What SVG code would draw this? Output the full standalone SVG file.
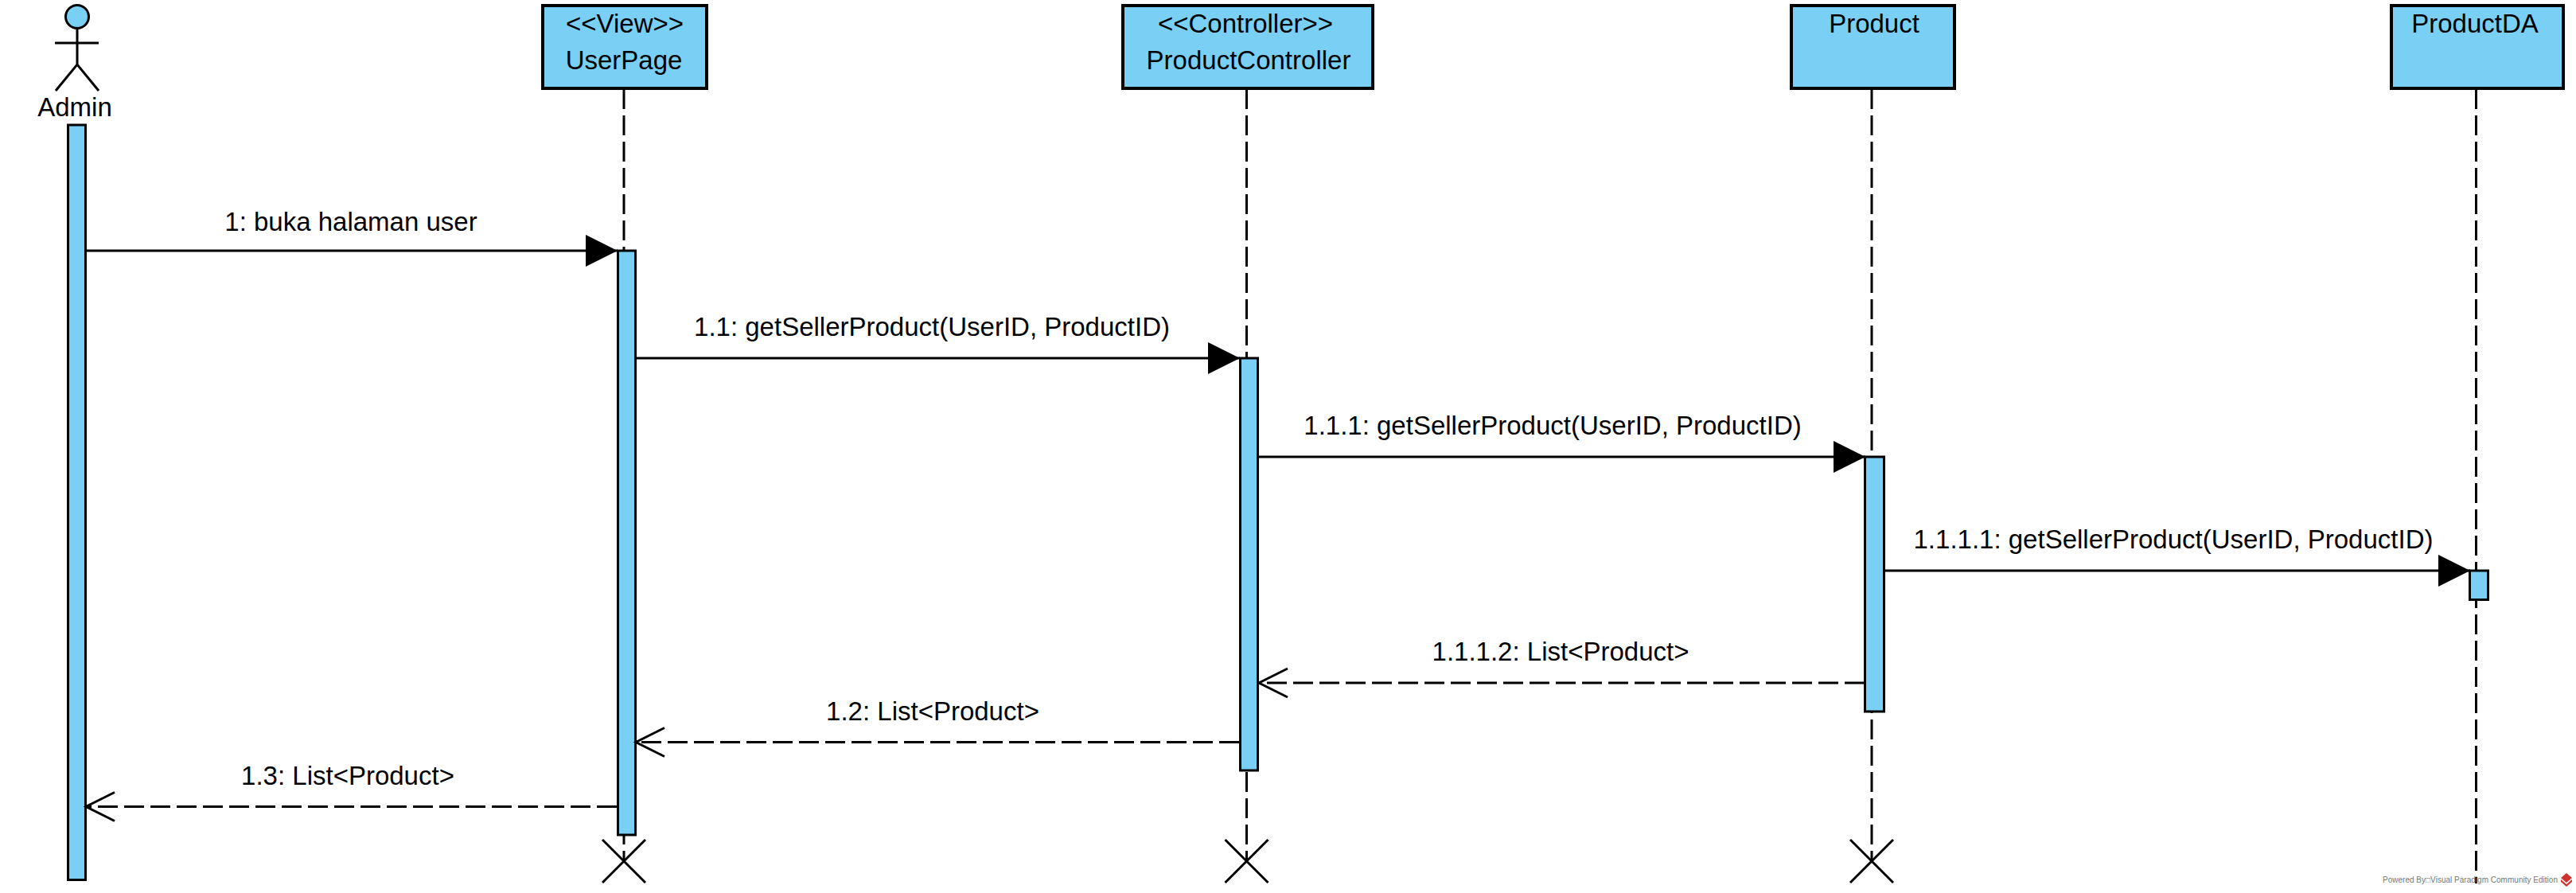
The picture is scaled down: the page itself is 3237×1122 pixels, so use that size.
<svg xmlns="http://www.w3.org/2000/svg" width="3237" height="1122" viewBox="0 0 3237 1122">
<style>
text{font-family:"Liberation Sans",Arial,sans-serif;font-size:33px;fill:#000;text-anchor:middle}
.box{fill:#7ACFF5;stroke:#000;stroke-width:4;stroke-linejoin:miter}
.head{fill:#7ACFF5;stroke:#000;stroke-width:3}
.act{fill:#7ACFF5;stroke:#000;stroke-width:3}
.ln{stroke:#000;stroke-width:3;fill:none}
.life{stroke:#000;stroke-width:3;fill:none;stroke-dasharray:25 8}
.ret{stroke:#000;stroke-width:3;fill:none;stroke-dasharray:25 8;marker-end:url(#open)}
.call{stroke:#000;stroke-width:3;fill:none;marker-end:url(#solid)}
.wm{font-size:10px;fill:#777;text-anchor:start}
</style>
<defs>
<marker id="solid" markerUnits="userSpaceOnUse" markerWidth="42" markerHeight="42" refX="40" refY="20" orient="auto" viewBox="0 0 42 42"><path d="M0,0L40,20L0,40Z" fill="#000"/></marker>
<marker id="open" markerUnits="userSpaceOnUse" markerWidth="44" markerHeight="44" refX="40" refY="21" orient="auto" viewBox="0 0 44 44"><path d="M4,3L40,21L4,39" fill="none" stroke="#000" stroke-width="3"/></marker>
</defs>
<rect width="3237" height="1122" fill="#fff"/>
<g id="lifelines">
<path class="life" d="M784,112V1083"/>
<path class="life" d="M1566.500,112V1083"/>
<path class="life" d="M2352,112V1083"/>
<path class="life" d="M3111.500,112V1110"/>
</g>
<g id="node-admin">
<circle cx="97" cy="21" r="14.500" class="head"/>
<path class="ln" d="M97,36V81M69,54H124M70,114L97,81L124,114"/>
<text x="94" y="146">Admin</text>
<rect class="act" x="85.500" y="157" width="22" height="948.500"/>
</g>
<g id="node-userpage">
<rect class="box" x="682" y="7" width="206" height="104"/>
<text x="785" y="41">&lt;&lt;View&gt;&gt;</text>
<text x="784" y="87">UserPage</text>
<rect class="act" x="776.500" y="315" width="22" height="734"/>
<path class="ln" d="M757,1055L811,1109M811,1055L757,1109"/>
</g>
<g id="node-productcontroller">
<rect class="box" x="1411" y="7" width="314" height="104"/>
<text x="1565" y="41">&lt;&lt;Controller&gt;&gt;</text>
<text x="1569" y="87">ProductController</text>
<rect class="act" x="1558.500" y="450" width="22" height="518"/>
<path class="ln" d="M1539.500,1055L1593.500,1109M1593.500,1055L1539.500,1109"/>
</g>
<g id="node-product">
<rect class="box" x="2251" y="7" width="205" height="104"/>
<text x="2355" y="41">Product</text>
<rect class="act" x="2343.500" y="574" width="24" height="320"/>
<path class="ln" d="M2325,1055L2379,1109M2379,1055L2325,1109"/>
</g>
<g id="node-productda">
<rect class="box" x="3005" y="7" width="216" height="104"/>
<text x="3110" y="41">ProductDA</text>
<rect class="act" x="3103.500" y="717" width="23" height="36.500"/>
</g>
<g id="connectors">
<path class="call" d="M108,315H776"/>
<text x="441" y="290">1: buka halaman user</text>
<path class="call" d="M799,450H1558"/>
<text x="1171" y="422">1.1: getSellerProduct(UserID, ProductID)</text>
<path class="call" d="M1581,574H2344"/>
<text x="1951" y="546">1.1.1: getSellerProduct(UserID, ProductID)</text>
<path class="call" d="M2367,717H3104"/>
<text x="2731" y="689">1.1.1.1: getSellerProduct(UserID, ProductID)</text>
<path class="ret" d="M2343,858H1582"/>
<text x="1961" y="830">1.1.1.2: List&lt;Product&gt;</text>
<path class="ret" d="M1557,932.500H799"/>
<text x="1172" y="905">1.2: List&lt;Product&gt;</text>
<path class="ret" d="M775,1013.500H108"/>
<text x="437" y="986">1.3: List&lt;Product&gt;</text>
</g>
<g id="watermark">
<text class="wm" x="2994" y="1109" textLength="220" lengthAdjust="spacing">Powered By□Visual Paradigm Community Edition</text>
<path d="M3225,1097L3232,1103L3225,1109L3218,1103Z" fill="#d2322d"/>
<path d="M3218,1105L3225,1111L3232,1105L3232,1108L3225,1114L3218,1108Z" fill="#d2322d"/>
</g>
</svg>
